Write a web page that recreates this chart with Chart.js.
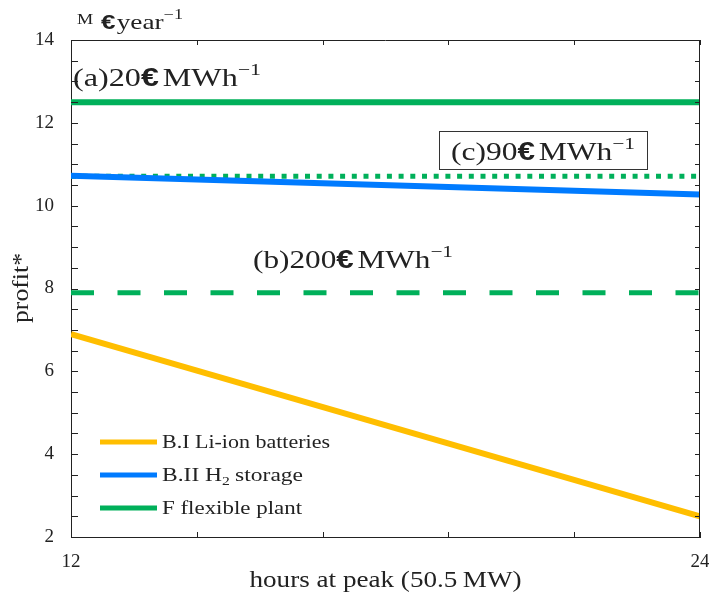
<!DOCTYPE html>
<html>
<head>
<meta charset="utf-8">
<script src="https://cdn.jsdelivr.net/npm/chart.js@4/dist/chart.umd.min.js"></script>
<style>
  html, body { margin: 0; padding: 0; background: #fff; }
  #wrap { width: 709px; height: 594px; }
</style>
</head>
<body>
<div id="wrap"><canvas id="c" width="709" height="594"></canvas></div>
<script>
// Profit (M€ per year) versus hours at peak
const hours = [12, 24];
const liIonProfit = [6.9, 2.5];
const h2Profit = [10.72, 10.27];
const flexProfit20 = [12.5, 12.5];
const flexProfit90 = [10.71, 10.71];
const flexProfit200 = [7.9, 7.9];
const yTickValues = [2, 4, 6, 8, 10, 12, 14];
const xTickValues = [12, 24];
const seriesNames = ['B.I Li-ion batteries', 'B.II H', 'F flexible plant'];

const YELLOW = 'rgb(255,190,0)';
const BLUE = 'rgb(0,123,255)';
const GREEN = 'rgb(0,176,90)';
const SERIF = '"Liberation Serif", "DejaVu Serif", serif';
const INK = '#222';

const pts = (ys) => hours.map((h, i) => ({ x: h, y: ys[i] }));

// Draw a run of text pieces (with super/subscripts), optionally stretched to a width
function drawRich(ctx, x, y, segs, opts = {}) {
  const measure = s => {
    ctx.font = (s.bold ? 'bold ' : '') + s.size + 'px ' + (s.family || SERIF);
    return ctx.measureText(s.t).width + (s.gap || 0);
  };
  let total = 0;
  segs.forEach(s => { total += measure(s); });
  const sx = opts.width ? opts.width / total : 1;
  ctx.save();
  ctx.translate(x, y);
  if (opts.rotate) ctx.rotate(opts.rotate);
  ctx.scale(sx, 1);
  let cx = 0;
  if (opts.align === 'center') cx = -total / 2;
  if (opts.align === 'right') cx = -total;
  ctx.fillStyle = opts.color || INK;
  ctx.textBaseline = 'alphabetic';
  ctx.textAlign = 'left';
  segs.forEach(s => {
    ctx.font = (s.bold ? 'bold ' : '') + s.size + 'px ' + (s.family || SERIF);
    ctx.fillText(s.t, cx, s.dy || 0);
    cx += ctx.measureText(s.t).width + (s.gap || 0);
  });
  ctx.restore();
}

const priceLabel = (prefix, size) => [
  { t: prefix, size: size },
  { t: '€', size: size, bold: true, family: '"Liberation Sans", sans-serif', gap: 3 },
  { t: 'MWh', size: size },
  { t: '−1', size: Math.round(size * 0.68), dy: -Math.round(size * 0.42) }
];

const decor = {
  id: 'decor',
  afterDatasetsDraw(chart) {
    const { ctx, chartArea: a, scales: { x, y } } = chart;
    ctx.save();
    // frame
    ctx.strokeStyle = INK;
    ctx.lineWidth = 1;
    ctx.beginPath();
    ctx.moveTo(a.left, a.top + 0.5); ctx.lineTo(a.right, a.top + 0.5);
    ctx.moveTo(a.right - 0.5, a.top); ctx.lineTo(a.right - 0.5, a.bottom);
    ctx.stroke();
    // inward tick marks
    ctx.beginPath();
    for (let v = 2; v <= 14.0001; v += 0.5) {
      const py = Math.round(y.getPixelForValue(v)) + 0.5;
      ctx.moveTo(a.left, py); ctx.lineTo(a.left + 7, py);
      ctx.moveTo(a.right, py); ctx.lineTo(a.right - 5, py);
    }
    for (let k = 0; k <= 5; k++) {
      const px = Math.round(x.getPixelForValue(12 + k * 2.4)) + 0.5;
      ctx.moveTo(px, a.bottom); ctx.lineTo(px, a.bottom - 5);
      ctx.moveTo(px, a.top); ctx.lineTo(px, a.top + 5);
    }
    ctx.stroke();

    // price annotations
    drawRich(ctx, 73, 86, priceLabel('(a)20', 25), { width: 188 });
    drawRich(ctx, 253, 268, priceLabel('(b)200', 25), { width: 200 });
    ctx.fillStyle = '#fff';
    ctx.fillRect(439.5, 131.5, 208, 38);
    ctx.strokeStyle = '#333';
    ctx.strokeRect(439.5, 131.5, 208, 38);
    drawRich(ctx, 451, 160, priceLabel('(c)90', 25), { width: 184 });

    // unit label above the axis
    drawRich(ctx, 77, 29, [
      { t: 'M', size: 14, dy: -5, gap: 6 },
      { t: '€', size: 20, bold: true, family: '"Liberation Sans", sans-serif', gap: 1 },
      { t: 'year', size: 21 },
      { t: '−1', size: 14, dy: -10 }
    ], { width: 106 });

    // axis titles
    drawRich(ctx, 28, 288, [{ t: 'profit*', size: 23 }], { width: 70, align: 'center', rotate: -Math.PI / 2 });
    drawRich(ctx, (a.left + a.right) / 2, 587, [{ t: 'hours at peak (50.5\u2009MW)', size: 23 }], { width: 272, align: 'center' });

    // legend
    const rows = [
      { c: YELLOW, segs: [{ t: seriesNames[0], size: 18 }], w: 168 },
      { c: BLUE, segs: [{ t: seriesNames[1], size: 18 }, { t: '2', size: 12, dy: 4, gap: 4 }, { t: 'storage', size: 18 }], w: 141 },
      { c: GREEN, segs: [{ t: seriesNames[2], size: 18 }], w: 140 }
    ];
    const rowY = [442, 475, 508];
    rows.forEach((r, i) => {
      ctx.strokeStyle = r.c;
      ctx.lineWidth = 5;
      ctx.beginPath();
      ctx.moveTo(100, rowY[i]); ctx.lineTo(157, rowY[i]);
      ctx.stroke();
      drawRich(ctx, 162, rowY[i] + 6, r.segs, { width: r.w });
    });
    ctx.restore();
  }
};

const base = { pointRadius: 0, tension: 0, borderCapStyle: 'butt', fill: false };

new Chart(document.getElementById('c'), {
  type: 'line',
  data: {
    datasets: [
      { ...base, label: 'B.I Li-ion batteries', data: pts(liIonProfit), borderColor: YELLOW, borderWidth: 6 },
      { ...base, label: 'B.II H2 storage', data: pts(h2Profit), borderColor: BLUE, borderWidth: 6 },
      { ...base, label: 'F 20', data: pts(flexProfit20), borderColor: GREEN, borderWidth: 6 },
      { ...base, label: 'F 90', data: pts(flexProfit90), borderColor: GREEN, borderWidth: 5, borderDash: [5, 6.7] },
      { ...base, label: 'F 200', data: pts(flexProfit200), borderColor: GREEN, borderWidth: 5, borderDash: [23, 23.5] }
    ]
  },
  options: {
    responsive: false,
    animation: false,
    events: [],
    layout: { padding: { left: 0, right: 9, top: 40, bottom: 0 } },
    plugins: { legend: { display: false }, tooltip: { enabled: false }, title: { display: false } },
    scales: {
      x: {
        type: 'linear', min: 12, max: 24,
        afterBuildTicks: s => { s.ticks = xTickValues.map(v => ({ value: v })); },
        afterFit: s => { s.height = 57; s.paddingLeft = 0; s.paddingRight = 0; },
        grid: { display: false },
        border: { display: true, color: INK, width: 1 },
        ticks: { font: { family: SERIF, size: 19 }, color: INK, padding: 6, maxRotation: 0 }
      },
      y: {
        type: 'linear', min: 2, max: 14,
        afterBuildTicks: s => { s.ticks = yTickValues.map(v => ({ value: v })); },
        afterFit: s => { s.width = 71; s.paddingTop = 0; s.paddingBottom = 0; },
        grid: { display: false },
        border: { display: true, color: INK, width: 1 },
        ticks: { font: { family: SERIF, size: 19 }, color: INK, padding: 9 }
      }
    }
  },
  plugins: [decor]
});
</script>
</body>
</html>
